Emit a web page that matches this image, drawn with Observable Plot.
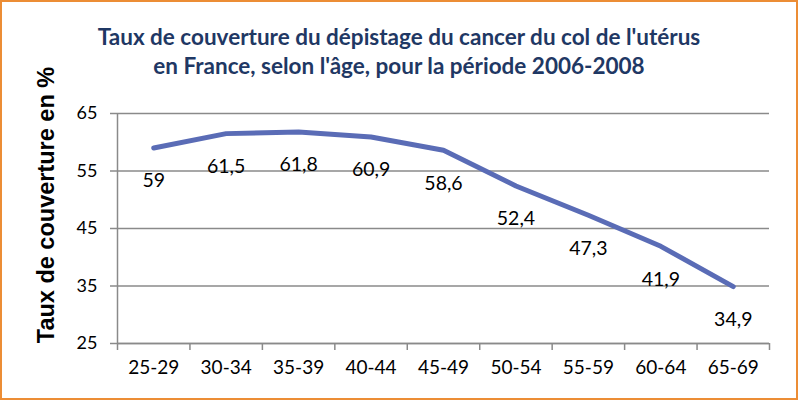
<!DOCTYPE html>
<html><head><meta charset="utf-8">
<script src="https://cdn.jsdelivr.net/npm/d3@7"></script>
<script src="https://cdn.jsdelivr.net/npm/@observablehq/plot@0.6"></script>
<style>
body{margin:0;background:#fff}
#wrap{position:relative;width:798px;height:400px;overflow:hidden;background:#fff}
#chart{position:absolute;left:0;top:0}
#frame{position:absolute;left:0;top:0;width:798px;height:400px;box-sizing:border-box;border:2px solid #ec8d35;pointer-events:none}
#title{position:absolute;left:0;top:22px;width:798px;text-align:center;font-family:Lato;font-weight:bold;font-size:22.5px;color:#1f3864;line-height:29px}
#ylab{position:absolute;left:46px;top:205px;transform:translate(-50%,-50%) rotate(-90deg);white-space:nowrap;font-family:"Liberation Sans";font-weight:bold;font-size:23.5px;color:#000}
</style>
</head><body>
<div id="wrap">
  <div id="chart"></div>
  <div id="title">Taux de couverture du dépistage du cancer du col de l'utérus<br>en France, selon l'âge, pour la période 2006-2008</div>
  <div id="ylab">Taux de couverture en %</div>
  <div id="frame"></div>
</div>
<script>
const categories = ["25-29","30-34","35-39","40-44","45-49","50-54","55-59","60-64","65-69"];
const values = [59, 61.5, 61.8, 60.9, 58.6, 52.4, 47.3, 41.9, 34.9];
const yTicks = [25, 35, 45, 55, 65];

const data = categories.map((c, i) => ({i, c, v: values[i]}));
const n = categories.length;
const boundaries = d3.range(n + 1).map(k => k - 0.5);
const grey = "#8a8a8a";

const chart = Plot.plot({
  width: 798, height: 400,
  marginTop: 113, marginBottom: 57, marginLeft: 117, marginRight: 29,
  style: {fontFamily: "Lato", color: "#000", background: "transparent"},
  x: {type: "linear", domain: [-0.5, n - 0.5]},
  y: {domain: [25, 65]},
  marks: [
    Plot.gridY(yTicks, {stroke: grey, strokeOpacity: 1, strokeWidth: 1.5}),
    Plot.ruleY([25], {stroke: grey, strokeWidth: 1.5}),
    Plot.ruleX([-0.5], {stroke: grey, strokeWidth: 1.5}),
    Plot.axisY(yTicks, {tickSize: 7, tickPadding: 13, fontSize: 18, stroke: grey, strokeWidth: 1.5, strokeOpacity: 1, label: null}),
    Plot.axisX(boundaries, {tickSize: 7, tickFormat: () => "", stroke: grey, strokeWidth: 1.5, strokeOpacity: 1, label: null}),
    Plot.axisX(d3.range(n), {tickSize: 0, tickPadding: 17, fontSize: 19, tickFormat: i => categories[i], label: null}),
    Plot.line(data, {x: "i", y: "v", stroke: "#5a6cb6", strokeWidth: 5, strokeLinecap: "round", strokeLinejoin: "round"}),
    Plot.text(data, {x: "i", y: "v", text: d => String(d.v).replace(".", ","), dy: 33, fontSize: 19.5, fill: "#000"})
  ]
});
document.getElementById("chart").appendChild(chart);
</script>
</body></html>
